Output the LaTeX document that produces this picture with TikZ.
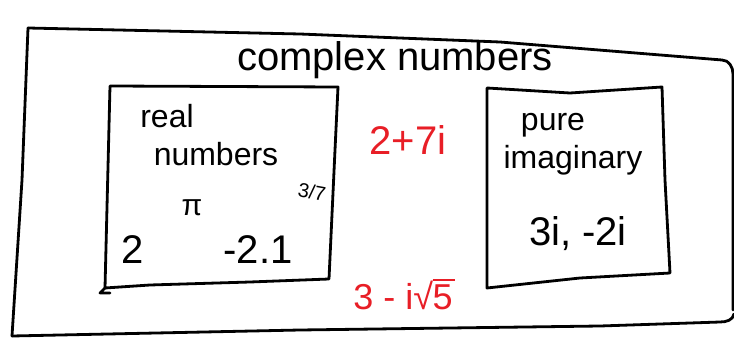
\documentclass[tikz,border=0pt]{standalone}
\usepackage{fontspec}
\setmainfont{Liberation Sans}
\definecolor{sketchred}{RGB}{232,30,38}
\newcommand{\mysurd}[1]{√\kern-0.5pt\rlap{\rule[0.78em]{0.62em}{0.07em}}#1}
\begin{document}
\begin{tikzpicture}[x=1pt,y=-1pt,
  ink/.style={line width=2.8pt,line cap=round,line join=round,black},
  lbl/.style={inner sep=0pt,font=\fontsize{32}{34}\selectfont},
  big/.style={lbl,font=\fontsize{40}{42}\selectfont},
  redlbl/.style={big,text=sketchred}]
\useasboundingbox (0,0) rectangle (734,345);
% outer box (complex numbers)
\coordinate (o1) at (28,28);
\coordinate (o2) at (722,60);
\coordinate (o4) at (12,336);
\draw[ink] (o1) -- (300,34) -- (500,42) -- (o2) to[out=0,in=90] (733,74) -- (733,310);
\draw[ink] (o1) -- (22,180) -- (o4);
\draw[ink] (o4) -- (300,330) -- (600,326) -- (720,322) to[out=0,in=-100] (734,314);
\node[lbl,font=\fontsize{40}{42}\selectfont] (title) at (395,60) {complex numbers};
% real numbers box
\coordinate (r1) at (110,86);
\coordinate (r2) at (338,87);
\coordinate (r3) at (329,279);
\coordinate (r4) at (105,288);
\draw[ink] (r1) -- (r2) -- (335,150) -- (r3) -- (250,282) -- (150,285) -- (r4) -- (r1);
\draw[ink] (r4) -- (100,293) -- (110,293);
\node[lbl] (real) at (167,116) {real};
\node[lbl] (numbers) at (216,154) {numbers};
\node[lbl,font=\fontsize{20}{22}\selectfont,rotate=-10] (frac) at (312,192) {3/7};
\node[lbl,font=\fontsize{30}{32}\selectfont] (pi) at (192,208) {π};
\node[big] (two) at (133,250) {2};
\node[big] (neg) at (258,250) {-2.1};
% pure imaginary box
\coordinate (p1) at (487,88);
\coordinate (p2) at (662,87);
\coordinate (p3) at (670,273);
\coordinate (p4) at (487,288);
\draw[ink] (p1) -- (570,93) -- (p2) -- (665,180) -- (p3) -- (580,278) -- (p4) -- (p1);
\node[lbl] (pure) at (553,125) {pure};
\node[lbl] (imag) at (573,160) {imaginary};
\node[big] (pimag) at (578,234) {3i, -2i};
% red examples
\node[redlbl] (z1) at (408,140) {2+7i};
\node[redlbl,font=\fontsize{36}{38}\selectfont] (z2) at (403,294) {3 - i\mysurd{5}};
\end{tikzpicture}
\end{document}
